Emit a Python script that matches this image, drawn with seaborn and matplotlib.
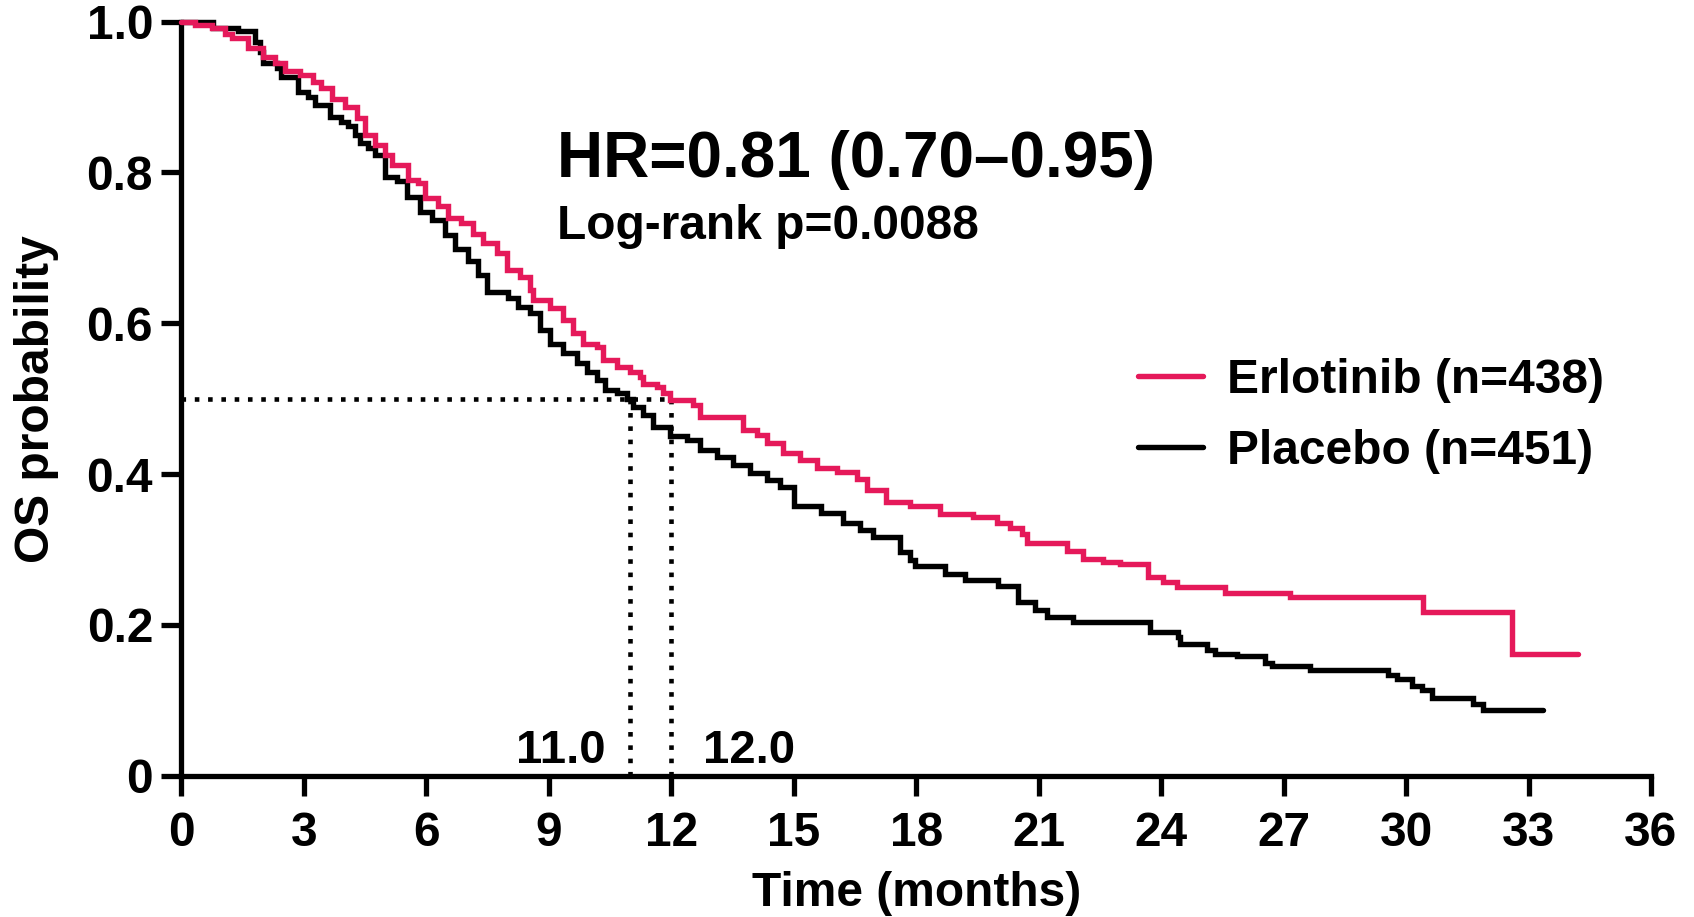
import numpy as np
import pandas as pd
import matplotlib
matplotlib.use("Agg")
import matplotlib.pyplot as plt
import seaborn as sns
from matplotlib.lines import Line2D

# ---- data ----
erl_t = [0, 0.33, 0.74, 1.07, 1.23, 1.64, 2.0, 2.29, 2.54, 2.9, 3.23, 3.43, 3.68, 4.0, 4.29,
         4.5, 4.74, 4.99, 5.15, 5.56, 5.8, 5.97, 6.29, 6.54, 6.86, 7.15, 7.39, 7.72, 7.97,
         8.29, 8.54, 8.62, 9.03, 9.35, 9.6, 9.84, 10.17, 10.33, 10.66, 10.99, 11.23, 11.31,
         11.64, 11.8, 11.97, 12.54, 12.7, 13.76, 14.09, 14.34, 14.74, 15.15, 15.56, 16.05,
         16.54, 16.79, 17.27, 17.85, 18.58, 19.4, 19.97, 20.3, 20.58, 20.71, 21.69, 22.09,
         22.58, 22.99, 23.68, 24.05, 24.38, 25.56, 27.16, 30.42, 32.6, 34.22]
erl_s = [1.0, 0.995, 0.991, 0.984, 0.978, 0.965, 0.953, 0.945, 0.934, 0.929, 0.92, 0.912, 0.898,
         0.887, 0.872, 0.85, 0.836, 0.823, 0.81, 0.79, 0.786, 0.766, 0.755, 0.739, 0.733, 0.719,
         0.706, 0.693, 0.671, 0.662, 0.644, 0.631, 0.62, 0.604, 0.587, 0.573, 0.569, 0.551,
         0.542, 0.536, 0.529, 0.52, 0.516, 0.507, 0.498, 0.492, 0.476, 0.458, 0.452, 0.441,
         0.428, 0.419, 0.408, 0.403, 0.394, 0.379, 0.363, 0.357, 0.347, 0.343, 0.335, 0.328,
         0.321, 0.308, 0.298, 0.288, 0.284, 0.281, 0.264, 0.257, 0.25, 0.242, 0.237, 0.217,
         0.161, 0.161]

pla_t = [0, 0.78, 1.38, 1.8, 1.92, 2.0, 2.33, 2.45, 2.86, 3.1, 3.27, 3.64, 3.92, 4.09, 4.25,
         4.37, 4.58, 4.74, 4.99, 5.27, 5.52, 5.84, 6.13, 6.46, 6.7, 7.03, 7.27, 7.48, 8.0,
         8.25, 8.54, 8.78, 9.03, 9.35, 9.68, 9.93, 10.17, 10.37, 10.66, 10.91, 11.07, 11.31,
         11.56, 11.97, 12.38, 12.7, 13.11, 13.52, 13.93, 14.34, 14.66, 15.0, 15.66, 16.21,
         16.62, 16.95, 17.6, 17.85, 17.97, 18.7, 19.19, 20.0, 20.5, 20.91, 21.2, 21.85, 23.73,
         24.42, 24.46, 25.12, 25.32, 25.85, 26.54, 26.71, 27.64, 29.56, 29.77, 30.14, 30.4,
         30.63, 31.65, 31.89, 33.36]
pla_s = [1.0, 0.991, 0.987, 0.973, 0.96, 0.945, 0.938, 0.927, 0.907, 0.9, 0.889, 0.874, 0.867,
         0.861, 0.85, 0.839, 0.832, 0.823, 0.794, 0.788, 0.768, 0.748, 0.737, 0.717, 0.699,
         0.682, 0.664, 0.642, 0.633, 0.622, 0.613, 0.591, 0.573, 0.56, 0.547, 0.536, 0.525,
         0.511, 0.507, 0.5, 0.489, 0.478, 0.463, 0.45, 0.445, 0.432, 0.423, 0.412, 0.401,
         0.392, 0.383, 0.357, 0.348, 0.335, 0.326, 0.317, 0.297, 0.286, 0.278, 0.267, 0.26,
         0.251, 0.231, 0.22, 0.21, 0.204, 0.191, 0.184, 0.175, 0.167, 0.162, 0.159, 0.149,
         0.145, 0.14, 0.133, 0.128, 0.119, 0.114, 0.103, 0.095, 0.087, 0.087]

groups = ["Erlotinib (n=438)", "Placebo (n=451)"]
colors = {"Erlotinib (n=438)": "#E5195A", "Placebo (n=451)": "#000000"}
medians = [11.0, 12.0]
median_labels = ["11.0", "12.0"]
x_ticks = list(range(0, 37, 3))
y_ticks = [0, 0.2, 0.4, 0.6, 0.8, 1.0]
y_ticklabels = ["0", "0.2", "0.4", "0.6", "0.8", "1.0"]
hr_text = "HR=0.81 (0.70\u20130.95)"
p_text = "Log-rank p=0.0088"

df = pd.concat([
    pd.DataFrame({"time": erl_t, "surv": erl_s, "group": groups[0]}),
    pd.DataFrame({"time": pla_t, "surv": pla_s, "group": groups[1]}),
], ignore_index=True)

sns.set_theme(style="ticks")
plt.rcParams["font.family"] = ["Liberation Sans", "DejaVu Sans"]
plt.rcParams["font.weight"] = "bold"
for k in ["text.color", "axes.labelcolor", "xtick.color", "ytick.color", "axes.edgecolor"]:
    plt.rcParams[k] = "black"

fig = plt.figure(figsize=(16.94, 9.17), dpi=100)
ax = fig.add_axes([0.1071, 0.1541, 0.8675, 0.8223])

LW = 3.9
for g in [groups[1], groups[0]]:
    sub = df[df["group"] == g]
    sns.lineplot(data=sub, x="time", y="surv", ax=ax, color=colors[g], lw=LW,
                 drawstyle="steps-post", estimator=None, sort=False, legend=False,
                 clip_on=False, solid_joinstyle="miter", zorder=3 if g == groups[0] else 2)

# median dotted guides
dot = dict(color="black", lw=3.3, linestyle=(0, (1, 1.9)), dash_capstyle="butt", zorder=1)
ax.plot([0, max(medians)], [0.5, 0.5], **dot)
for m in medians:
    ax.plot([m, m], [0, 0.5], **dot)

ax.text(10.39, 0.017, median_labels[0], ha="right", va="baseline", fontsize=34, fontweight="bold")
ax.text(12.77, 0.017, median_labels[1], ha="left", va="baseline", fontsize=34, fontweight="bold")

ax.text(9.19, 0.794, hr_text, ha="left", va="baseline", fontsize=46, fontweight="bold")
ax.text(9.19, 0.712, p_text, ha="left", va="baseline", fontsize=34.5, fontweight="bold")

ax.set_xlim(0, 36)
ax.set_ylim(0, 1.0)
ax.set_xticks(x_ticks)
ax.set_xticklabels([str(t) for t in x_ticks])
ax.set_yticks(y_ticks)
ax.set_yticklabels(y_ticklabels)
sns.despine(ax=ax)
for s in ["left", "bottom"]:
    ax.spines[s].set_linewidth(3.8)
    ax.spines[s].set_capstyle("projecting")
ax.tick_params(axis="both", length=14.4, width=3.8, labelsize=34.5, color="black")
ax.tick_params(axis="x", pad=11)
ax.tick_params(axis="y", pad=6)
for lab in ax.get_xticklabels() + ax.get_yticklabels():
    lab.set_fontweight("bold")

ax.set_xlabel("Time (months)", fontsize=34.5, fontweight="bold", labelpad=11)
ax.set_ylabel("OS probability", fontsize=34.5, fontweight="bold", labelpad=20)

handles = [Line2D([], [], color=colors[g], lw=LW) for g in groups]
leg = ax.legend(handles, groups, loc="center left", bbox_to_anchor=(0.651, 0.477),
                frameon=False, fontsize=34.5, handlelength=1.35, handletextpad=0.5,
                labelspacing=0.55, borderpad=0, borderaxespad=0)
for t in leg.get_texts():
    t.set_fontweight("bold")

fig.savefig("out.png", dpi=100)
